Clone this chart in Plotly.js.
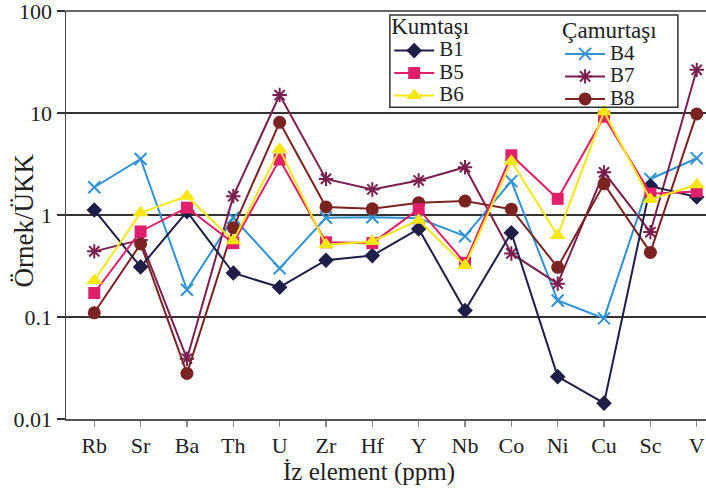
<!DOCTYPE html>
<html>
<head>
<meta charset="utf-8">
<script src="https://cdn.plot.ly/plotly-3.0.1.min.js"></script>
<style>html,body{margin:0;padding:0;background:#fff;}#chart{width:706px;height:490px;}</style>
</head>
<body>
<div id="chart"></div>
<script>
const elements = ["Rb","Sr","Ba","Th","U","Zr","Hf","Y","Nb","Co","Ni","Cu","Sc","V"];
const B1 = [1.12,0.31,1.08,0.27,0.196,0.36,0.40,0.73,0.116,0.67,0.026,0.0143,1.92,1.50];
const B5 = [0.172,0.69,1.18,0.53,3.5,0.54,0.53,1.14,0.34,3.85,1.44,9.2,1.62,1.70];
const B6 = [0.228,1.05,1.53,0.56,4.4,0.51,0.55,0.89,0.32,3.36,0.63,10.3,1.42,1.98];
const B4 = [1.87,3.54,0.185,0.94,0.30,0.94,0.95,0.93,0.62,2.15,0.145,0.097,2.25,3.6];
const B7 = [0.44,0.57,0.039,1.53,15.0,2.26,1.78,2.18,2.94,0.42,0.212,2.62,0.68,26.5];
const B8 = [0.11,0.52,0.028,0.75,8.1,1.2,1.15,1.32,1.37,1.14,0.307,2.02,0.43,9.8];
const seriesNames = ["B1","B5","B6","B4","B7","B8"];
const groupTitles = ["Kumtaşı", "Çamurtaşı"];
const yTickVals = [0.01, 0.1, 1, 10, 100];
const yTickText = ["0.01", "0.1", "1", "10", "100"];

const FONT = "Liberation Serif, Times New Roman, serif";

function tr(name, y, color, symbol, size, legend, extra) {
  return {
    type: "scatter", mode: "lines+markers",
    name: '<span style="font-size:21px">' + name + '</span>',
    x: elements, y: y,
    line: {color: color, width: 2},
    marker: Object.assign({symbol: symbol, size: size, color: color}, extra || {}),
    legend: legend
  };
}

const traces = [
  tr(seriesNames[3], B4, "#2f93d3", "x-thin-open", 12, "legend2", {line: {width: 2, color: "#2f93d3"}}),
  tr(seriesNames[4], B7, "#7a2050", "asterisk-open", 12, "legend2", {line: {width: 2, color: "#7a2050"}}),
  tr(seriesNames[5], B8, "#7b2323", "circle", 13, "legend2"),
  tr(seriesNames[0], B1, "#1e1e46", "diamond", 12, "legend"),
  tr(seriesNames[1], B5, "#e0206a", "square", 12, "legend"),
  tr(seriesNames[2], B6, "#f5e614", "triangle-up", 14, "legend")
];

const legendCommon = {
  xanchor: "left", yanchor: "top",
  bgcolor: "rgba(0,0,0,0)", borderwidth: 0,
  font: {family: FONT, size: 15, color: "#222"},
  tracegroupgap: 0, itemwidth: 40, traceorder: "normal"
};

const layout = {
  width: 706, height: 490,
  margin: {l: 66, r: 0, t: 11, b: 71},
  paper_bgcolor: "#fff", plot_bgcolor: "#fff",
  font: {family: FONT, size: 21, color: "#222"},
  xaxis: {
    type: "category", categoryorder: "array", categoryarray: elements,
    range: [-0.61, 13.2],
    showgrid: false, zeroline: false,
    showline: true, linecolor: "#555", linewidth: 1.5,
    ticks: "outside", ticklen: 6, tickcolor: "#888", tickwidth: 1.2,
    tickfont: {family: FONT, size: 22, color: "#222"}
  },
  yaxis: {
    type: "log", range: [-2, 2],
    tickvals: yTickVals, ticktext: yTickText,
    ticklabeloverflow: "allow",
    showgrid: true, gridcolor: "#333", gridwidth: 1.2,
    zeroline: false,
    showline: true, linecolor: "#444", linewidth: 1.5,
    ticks: "outside", ticklen: 8, tickcolor: "#333", tickwidth: 1.2,
    tickfont: {family: FONT, size: 22, color: "#222"}
  },
  legend: Object.assign({}, legendCommon, {
    title: {text: groupTitles[0], font: {family: FONT, size: 23, color: "#222"}},
    x: 0.505, y: 1.016
  }),
  legend2: Object.assign({}, legendCommon, {
    title: {text: groupTitles[1], font: {family: FONT, size: 23, color: "#222"}},
    x: 0.772, y: 1.008
  }),
  shapes: [
    {type: "rect", xref: "paper", yref: "paper",
     x0: 0.506, x1: 0.956, y0: 0.764, y1: 0.990,
     line: {color: "#333", width: 1.5}, fillcolor: "rgba(0,0,0,0)", layer: "above"},
    {type: "line", xref: "paper", yref: "paper", x0: 0, x1: 1, y0: 1, y1: 1,
     line: {color: "#333", width: 1.5}, layer: "below"}
  ],
  annotations: [
    {text: "Örnek/ÜKK", xref: "paper", yref: "paper", x: -0.066, y: 0.486,
     xanchor: "center", yanchor: "middle", textangle: -90, showarrow: false,
     font: {family: FONT, size: 27, color: "#222"}},
    {text: "İz element (ppm)", xref: "paper", yref: "paper", x: 0.474, y: -0.13,
     xanchor: "center", yanchor: "middle", showarrow: false,
     font: {family: FONT, size: 25, color: "#222"}}
  ],
  showlegend: true
};

Plotly.newPlot("chart", traces, layout, {displayModeBar: false, staticPlot: true});
</script>
</body>
</html>
